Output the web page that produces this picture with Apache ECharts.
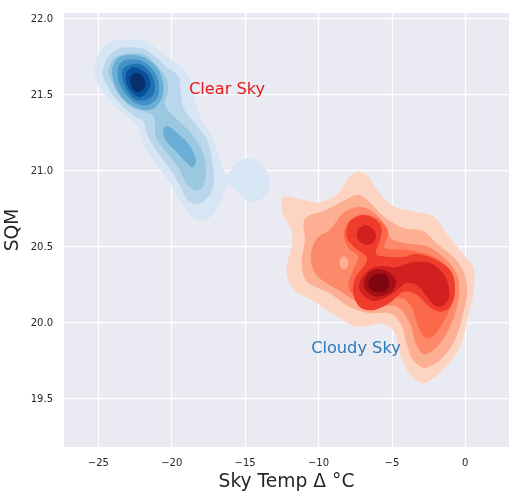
<!DOCTYPE html>
<html><head><meta charset="utf-8">
<style>html,body{margin:0;padding:0;background:#fff}#c{width:522px;height:496px}</style>
<script src="https://cdn.jsdelivr.net/npm/echarts@6/dist/echarts.min.js"></script>
</head><body><div id="c"></div>
<script>
const xTicks=[-25,-20,-15,-10,-5,0];
const yTicks=[19.5,20,20.5,21,21.5,22];
const xTitle='Sky Temp Δ °C', yTitle='SQM';
const annotations=[['Clear Sky',-18.82,21.475,'#e41a1c'],['Cloudy Sky',-10.5,19.775,'#2b7bba']];
const blueColors=['#d6e6f4','#bad6eb','#9ac8e0','#6aaed6','#4191c6','#2070b4','#08509b','#08306b'];
const redColors=['#fdd4c2','#fcaf93','#fc8a6a','#fb694a','#ef3c2c','#d02020','#a50f15','#7f0610'];

const blue1=[[-22.84,21.86],[-21.82,21.85],[-20.91,21.79],[-20.12,21.73],[-19.21,21.67],[-18.64,21.58],[-18.42,21.45],[-17.96,21.33],[-17.28,21.23],[-16.83,21.11],[-16.26,20.97],[-15.58,21.05],[-14.78,21.08],[-13.99,21.05],[-13.42,20.97],[-13.31,20.89],[-13.76,20.82],[-14.56,20.79],[-15.24,20.83],[-16.15,20.91],[-16.71,20.79],[-17.28,20.70],[-17.96,20.67],[-18.64,20.70],[-19.32,20.78],[-20.01,20.90],[-20.80,21.01],[-21.60,21.11],[-22.05,21.21],[-22.39,21.30],[-23.41,21.38],[-24.32,21.47],[-25.00,21.56],[-25.30,21.66],[-24.89,21.78],[-23.98,21.85]];
const blue2=[[-22.84,21.81],[-21.94,21.80],[-21.14,21.75],[-20.35,21.68],[-19.55,21.62],[-19.39,21.52],[-19.21,21.41],[-18.42,21.31],[-17.62,21.21],[-17.28,21.08],[-17.12,20.93],[-17.39,20.84],[-18.19,20.78],[-18.87,20.80],[-19.44,20.90],[-20.12,21.01],[-20.91,21.11],[-21.60,21.22],[-21.94,21.32],[-22.62,21.36],[-23.53,21.44],[-24.32,21.54],[-24.71,21.64],[-24.32,21.75],[-23.64,21.80]];
const blue3=[[-22.62,21.77],[-21.82,21.76],[-21.03,21.69],[-20.39,21.61],[-20.23,21.53],[-20.46,21.43],[-19.67,21.34],[-18.64,21.24],[-17.85,21.11],[-17.67,20.97],[-17.96,20.88],[-18.42,20.87],[-18.98,20.91],[-19.55,21.02],[-20.46,21.13],[-21.07,21.22],[-21.21,21.35],[-21.71,21.38],[-22.62,21.41],[-23.41,21.47],[-23.98,21.56],[-24.32,21.65],[-23.98,21.73],[-23.41,21.76]];
const blue4a=[[-22.84,21.76],[-21.82,21.74],[-20.96,21.67],[-20.57,21.57],[-20.69,21.47],[-21.37,21.40],[-22.39,21.41],[-23.30,21.47],[-23.91,21.57],[-24.05,21.67],[-23.64,21.74]];
const blue4b=[[-20.23,21.29],[-19.55,21.24],[-18.76,21.16],[-18.35,21.07],[-18.58,21.02],[-18.98,21.05],[-19.67,21.12],[-20.35,21.19],[-20.57,21.24],[-20.53,21.28]];
const blue5=[[-22.73,21.73],[-21.82,21.71],[-21.19,21.65],[-20.87,21.57],[-20.98,21.48],[-21.60,21.43],[-22.39,21.44],[-23.14,21.50],[-23.64,21.59],[-23.64,21.68],[-23.30,21.72]];
const blue6=[[-22.62,21.70],[-21.94,21.69],[-21.37,21.63],[-21.14,21.56],[-21.32,21.49],[-21.94,21.46],[-22.55,21.47],[-23.07,21.53],[-23.37,21.61],[-23.30,21.67]];
const blue7=[[-22.62,21.68],[-22.05,21.66],[-21.60,21.62],[-21.46,21.56],[-21.71,21.51],[-22.16,21.48],[-22.69,21.51],[-23.03,21.56],[-23.14,21.63],[-22.96,21.66]];
const blue8=[[-22.50,21.64],[-22.10,21.63],[-21.82,21.59],[-21.82,21.55],[-22.10,21.52],[-22.50,21.52],[-22.78,21.56],[-22.84,21.61]];

const red1=[[-7.29,20.99],[-6.61,20.96],[-5.93,20.86],[-5.02,20.77],[-3.55,20.73],[-2.18,20.70],[-1.39,20.60],[-0.25,20.46],[0.54,20.36],[0.59,20.21],[0.20,20.04],[-0.37,19.84],[-1.39,19.70],[-2.87,19.60],[-3.77,19.66],[-4.34,19.77],[-4.80,19.93],[-5.59,19.99],[-7.41,19.97],[-8.77,20.04],[-10.36,20.14],[-11.72,20.22],[-12.18,20.34],[-11.83,20.50],[-11.83,20.60],[-12.40,20.71],[-12.52,20.81],[-12.18,20.83],[-11.27,20.81],[-9.90,20.79],[-8.66,20.85],[-7.97,20.95]];
const red2=[[-7.29,20.84],[-6.50,20.79],[-5.59,20.70],[-4.23,20.62],[-2.87,20.60],[-1.96,20.52],[-0.82,20.43],[-0.14,20.34],[0.13,20.21],[-0.14,20.06],[-0.59,19.91],[-1.50,19.77],[-2.75,19.70],[-3.55,19.75],[-4.00,19.86],[-4.34,19.98],[-5.14,20.06],[-6.50,20.06],[-7.86,20.10],[-9.22,20.19],[-10.81,20.27],[-11.15,20.39],[-10.93,20.54],[-10.93,20.68],[-9.45,20.74],[-8.31,20.80]];
const red3=[[-7.29,20.76],[-6.50,20.74],[-5.70,20.67],[-5.02,20.55],[-4.00,20.52],[-2.64,20.50],[-1.50,20.43],[-0.59,20.32],[-0.41,20.19],[-0.82,20.02],[-1.73,19.86],[-2.75,19.79],[-3.32,19.85],[-3.77,19.99],[-4.57,20.10],[-5.82,20.11],[-7.41,20.14],[-8.43,20.20],[-10.13,20.31],[-10.52,20.43],[-10.13,20.55],[-9.22,20.61],[-8.31,20.72]];
const red3hole=[[-8.27,20.435],[-8.05,20.42],[-7.97,20.39],[-8.05,20.36],[-8.27,20.35],[-8.49,20.36],[-8.57,20.39],[-8.49,20.42]];
const red4=[[-6.84,20.71],[-5.93,20.68],[-5.25,20.60],[-5.48,20.49],[-4.23,20.48],[-2.64,20.45],[-1.50,20.39],[-0.82,20.30],[-0.78,20.17],[-1.28,20.04],[-2.18,19.91],[-2.75,19.90],[-3.20,19.97],[-3.66,20.10],[-4.34,20.16],[-5.59,20.15],[-6.72,20.14],[-7.63,20.18],[-7.97,20.25],[-7.52,20.37],[-7.29,20.43],[-7.97,20.49],[-8.27,20.59],[-7.75,20.68]];
const red5=[[-6.95,20.706],[-6.15,20.68],[-5.70,20.62],[-5.81,20.54],[-6.08,20.45],[-5.13,20.43],[-4.22,20.43],[-3.31,20.45],[-1.95,20.41],[-0.93,20.33],[-0.70,20.20],[-1.04,20.10],[-1.72,20.07],[-2.52,20.11],[-3.43,20.19],[-4.22,20.20],[-5.13,20.13],[-6.26,20.08],[-7.17,20.10],[-7.63,20.19],[-7.51,20.29],[-6.83,20.38],[-6.72,20.43],[-7.51,20.49],[-8.08,20.56],[-7.97,20.65],[-7.51,20.69]];
const red6a=[[-6.76,20.64],[-6.26,20.61],[-6.08,20.57],[-6.31,20.52],[-6.76,20.51],[-7.17,20.53],[-7.40,20.57],[-7.22,20.62]];
const red6b=[[-7.17,20.27],[-6.83,20.32],[-6.26,20.36],[-5.58,20.37],[-4.79,20.36],[-4.11,20.38],[-3.20,20.40],[-2.18,20.38],[-1.31,20.29],[-1.09,20.17],[-1.50,20.11],[-2.06,20.11],[-2.63,20.17],[-3.20,20.24],[-3.99,20.26],[-4.67,20.21],[-5.47,20.16],[-6.26,20.14],[-6.95,20.18],[-7.22,20.22]];
const red7=[[-6.04,20.35],[-5.24,20.33],[-4.72,20.27],[-5.02,20.20],[-5.92,20.17],[-6.54,20.19],[-6.90,20.24],[-6.67,20.32]];
const red8=[[-5.92,20.32],[-5.40,20.31],[-5.17,20.26],[-5.40,20.21],[-5.92,20.20],[-6.38,20.21],[-6.61,20.26],[-6.38,20.30]];

const contours=[
 [blue1,blueColors[0]],[blue2,blueColors[1]],[blue3,blueColors[2]],[blue4a,blueColors[3]],[blue4b,blueColors[3]],
 [blue5,blueColors[4]],[blue6,blueColors[5]],[blue7,blueColors[6]],[blue8,blueColors[7]],
 [red1,redColors[0]],[red2,redColors[1]],[red3,redColors[2]],[red3hole,redColors[1]],[red4,redColors[3]],
 [red5,redColors[4]],[red6a,redColors[5]],[red6b,redColors[5]],[red7,redColors[6]],[red8,redColors[7]]
];
const FONT='"DejaVu Sans"';
const chart=echarts.init(document.getElementById('c'),null,{renderer:'canvas'});
const axisCommon={
  type:'value',nameLocation:'middle',
  axisLine:{show:false},
  axisTick:{show:false},
  splitLine:{show:true,lineStyle:{color:'#ffffff',width:1.25}},
  nameTextStyle:{fontFamily:FONT,fontSize:18.7,color:'#262626'}
};
chart.setOption({
  animation:false,
  backgroundColor:'#ffffff',
  grid:{left:64,right:13,top:13,bottom:49,backgroundColor:'#eaeaf2',show:true,borderWidth:0,outerBoundsMode:'none'},
  xAxis:Object.assign({},axisCommon,{
    min:-27.34,max:2.98,name:xTitle,nameGap:22,
    axisTick:{show:false,customValues:xTicks},
    axisLabel:{customValues:xTicks,fontFamily:FONT,fontSize:10,color:'#262626',margin:11,
      formatter:v=>String(v).replace('-','\u2212')}
  }),
  yAxis:Object.assign({},axisCommon,{
    min:19.18,max:22.035,name:yTitle,nameGap:41,nameMoveOverlap:false,
    axisTick:{show:false,customValues:yTicks},
    axisLabel:{customValues:yTicks,fontFamily:FONT,fontSize:10,color:'#262626',margin:11,
      verticalAlign:'top',lineHeight:3,
      formatter:v=>v.toFixed(1)}
  }),
  series:[
    {type:'custom',coordinateSystem:'cartesian2d',clip:true,silent:true,
     data:contours.map((c,i)=>[c[0][0][0],c[0][0][1],i]),
     encode:{x:0,y:1},
     renderItem:(p,api)=>{
       const c=contours[p.dataIndex];
       return {type:'polygon',shape:{points:c[0].map(q=>api.coord(q)),smooth:0.33,smoothConstraint:false},
               style:{fill:c[1],stroke:null}};
     }},
    {type:'custom',coordinateSystem:'cartesian2d',silent:true,z:5,
     data:annotations.map(a=>[a[1],a[2]]),
     encode:{x:0,y:1},
     renderItem:(p,api)=>{
       const a=annotations[p.dataIndex];
       const pt=api.coord([a[1],a[2]]);
       return {type:'text',x:pt[0],y:pt[1],
         style:{text:a[0],fill:a[3],font:'16.2px '+FONT,textAlign:'left',textVerticalAlign:'bottom'}};
     }}
  ]
});
</script></body></html>
